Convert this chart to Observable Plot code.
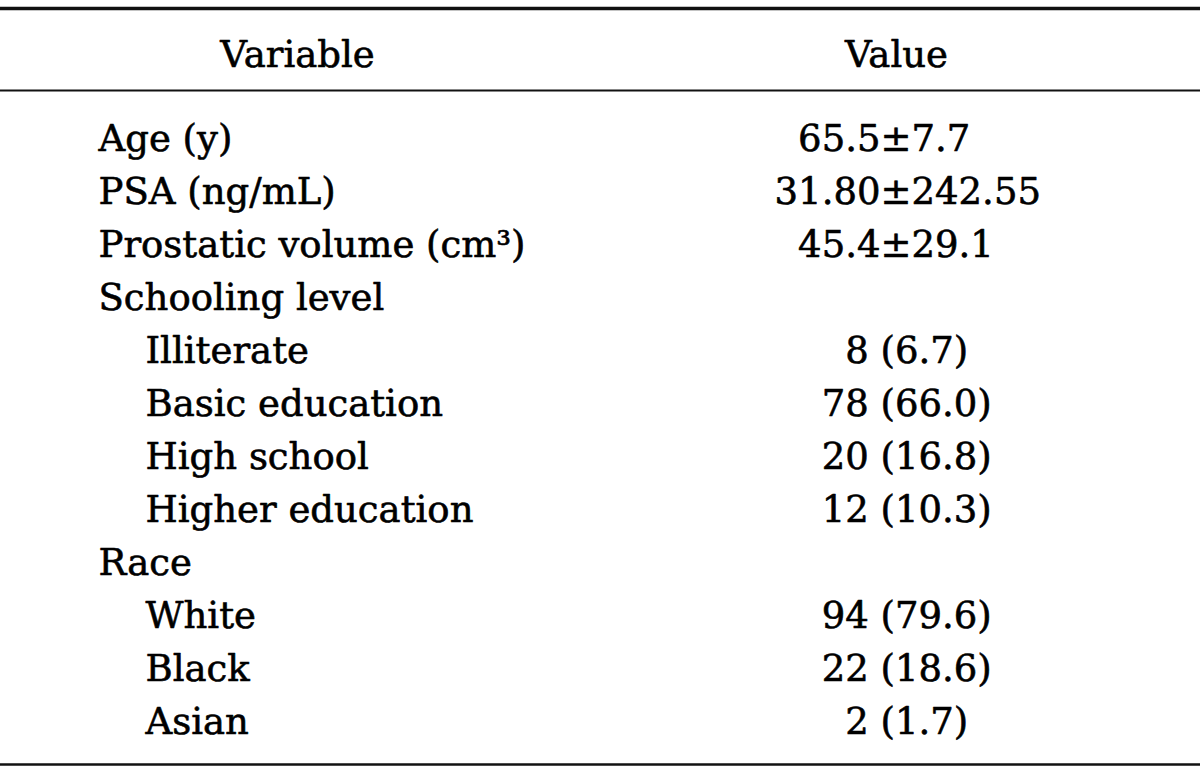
<!DOCTYPE html>
<html>
<head>
<meta charset="utf-8">
<script src="https://cdn.jsdelivr.net/npm/d3@7"></script>
<script src="https://cdn.jsdelivr.net/npm/@observablehq/plot@0.6"></script>
<style>
  html, body { margin: 0; padding: 0; background: #fff; }
  #chart svg { display: block; }
</style>
</head>
<body>
<div id="chart"></div>
<script>
// Table content
const headers = ["Variable", "Value"];
const variables = [
  "Age (y)",
  "PSA (ng/mL)",
  "Prostatic volume (cm³)",
  "Schooling level",
  "Illiterate",
  "Basic education",
  "High school",
  "Higher education",
  "Race",
  "White",
  "Black",
  "Asian"
];
const levels = [0, 0, 0, 0, 1, 1, 1, 1, 0, 1, 1, 1];
const values = [
  "65.5±7.7",
  "31.80±242.55",
  "45.4±29.1",
  "",
  "8 (6.7)",
  "78 (66.0)",
  "20 (16.8)",
  "12 (10.3)",
  "",
  "94 (79.6)",
  "22 (18.6)",
  "2 (1.7)"
];

// split each value at its alignment point ("±" or " (")
function splitValue(v) {
  if (v.includes("±")) {
    const k = v.indexOf("±");
    return [v.slice(0, k), v.slice(k)];
  }
  if (v.includes(" (")) {
    const k = v.indexOf(" (");
    return [v.slice(0, k) + "\u00a0", v.slice(k + 1)];
  }
  return ["", ""];
}

const rows = variables.map((name, i) => {
  const [left, right] = splitValue(values[i]);
  return {name, level: levels[i], left, right};
});

const FONT = "DejaVu Serif";
const FS = 37;
const INK = "#000";
const txt = {fontSize: FS, fill: INK, stroke: INK, strokeWidth: 0.6, lineAnchor: "bottom"};

const chart = Plot.plot({
  width: 1200,
  height: 774,
  marginLeft: 0,
  marginRight: 0,
  marginTop: 90,
  marginBottom: 10,
  style: {background: "#fff", fontFamily: FONT, color: INK},
  x: {type: "point", domain: headers, padding: 0, insetLeft: 98, insetRight: 320, axis: null},
  y: {type: "point", domain: variables, padding: 0, insetTop: 56.5, insetBottom: 28, axis: null},
  marks: [
    // rules
    Plot.frame({anchor: "top", dy: -82, stroke: "#111", strokeWidth: 3.5}),
    Plot.frame({anchor: "top", stroke: "#111", strokeWidth: 2}),
    Plot.frame({anchor: "bottom", stroke: "#111", strokeWidth: 2.6}),
    // header
    Plot.text([headers[0]], {...txt, x: d => d, text: d => d, frameAnchor: "top", dy: -24, dx: 199, textAnchor: "middle"}),
    Plot.text([headers[1]], {...txt, x: d => d, text: d => d, frameAnchor: "top", dy: -24, dx: 16, textAnchor: "middle"}),
    // variable labels
    Plot.text(rows.filter(d => d.level === 0), {...txt, x: () => headers[0], y: "name", text: "name", textAnchor: "start"}),
    Plot.text(rows.filter(d => d.level === 1), {...txt, x: () => headers[0], y: "name", text: "name", dx: 47, textAnchor: "start"}),
    // values, aligned at "±" / "("
    Plot.text(rows.filter(d => d.left), {...txt, x: () => headers[1], y: "name", text: "left", textAnchor: "end"}),
    Plot.text(rows.filter(d => d.right), {...txt, x: () => headers[1], y: "name", text: "right", textAnchor: "start"})
  ]
});

document.getElementById("chart").appendChild(chart);
</script>
</body>
</html>
